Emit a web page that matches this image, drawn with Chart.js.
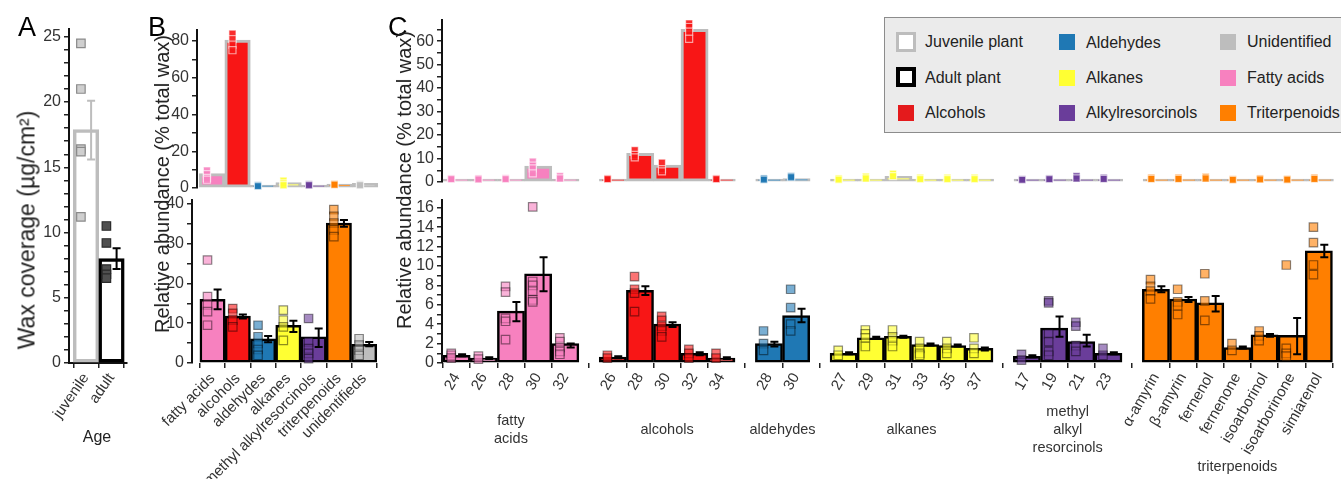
<!DOCTYPE html>
<html>
<head>
<meta charset="utf-8">
<title>Wax composition</title>
<script src="https://cdn.jsdelivr.net/npm/chart.js@4.4.1/dist/chart.umd.min.js"></script>
<style>
  body { margin: 0; background: #fff; }
  #fig { position: relative; width: 1341px; height: 479px; overflow: hidden; font-family: 'Liberation Sans', Arial, sans-serif; color: #222; }
  #fig canvas { position: absolute; }
  .txt { position: absolute; white-space: nowrap; line-height: 1; }
  .panel { font-size: 27px; color: #000; }
  .ytitle { font-size: 20px; transform: translate(-50%, -50%) rotate(-90deg); }
  .centered { transform: translate(-50%, -50%); }
  #legendBox { position: absolute; left: 884px; top: 17px; width: 470px; height: 114px; background: #ebebeb; border: 1px solid #8c8c8c; }
  .sw { position: absolute; box-sizing: border-box; }
  .lg { position: absolute; font-size: 16px; line-height: 20px; white-space: nowrap; color: #222; }
</style>
</head>
<body>
<div id="fig">
  <canvas id="chartA" width="135" height="479" style="left:0;top:0"></canvas>
  <canvas id="chartBtop" width="245" height="196" style="left:140px;top:0"></canvas>
  <canvas id="chartBbot" width="245" height="289" style="left:140px;top:190px"></canvas>
  <canvas id="chartCtop" width="961" height="190" style="left:380px;top:0"></canvas>
  <canvas id="chartCbot" width="961" height="289" style="left:380px;top:190px"></canvas>

  <div class="txt panel" style="left:18px;top:14px">A</div>
  <div class="txt panel" style="left:148px;top:14px">B</div>
  <div class="txt panel" style="left:388px;top:14px">C</div>

  <div class="txt ytitle" style="left:27px;top:230px;font-size:23px">Wax coverage (µg/cm²)</div>
  <div class="txt ytitle" style="left:162px;top:184px">Relative abundance (% total wax)</div>
  <div class="txt ytitle" style="left:404px;top:180px">Relative abundance (% total wax)</div>
  <div class="txt centered" style="left:97px;top:437px;font-size:16px">Age</div>

  <div id="legendBox"></div>
  <div class="sw" style="left:896px;top:32px;width:20px;height:20px;border:3px solid #bdbdbd;background:#fff"></div>
  <div class="lg" style="left:925px;top:32px">Juvenile plant</div>
  <div class="sw" style="left:896px;top:67px;width:20px;height:20px;border:4px solid #000;background:#fff"></div>
  <div class="lg" style="left:925px;top:68px">Adult plant</div>
  <div class="sw" style="left:898px;top:105px;width:16px;height:16px;background:#e41a1c"></div>
  <div class="lg" style="left:925px;top:103px">Alcohols</div>

  <div class="sw" style="left:1059px;top:34px;width:16px;height:16px;background:#1f78b4"></div>
  <div class="lg" style="left:1086px;top:33px">Aldehydes</div>
  <div class="sw" style="left:1059px;top:70px;width:16px;height:16px;background:#ffff33"></div>
  <div class="lg" style="left:1086px;top:68px">Alkanes</div>
  <div class="sw" style="left:1059px;top:105px;width:16px;height:16px;background:#6a3d9a"></div>
  <div class="lg" style="left:1086px;top:103px">Alkylresorcinols</div>

  <div class="sw" style="left:1220px;top:34px;width:16px;height:16px;background:#bdbdbd"></div>
  <div class="lg" style="left:1247px;top:32px">Unidentified</div>
  <div class="sw" style="left:1220px;top:70px;width:16px;height:16px;background:#f781bf"></div>
  <div class="lg" style="left:1247px;top:68px">Fatty acids</div>
  <div class="sw" style="left:1220px;top:105px;width:16px;height:16px;background:#ff7f00"></div>
  <div class="lg" style="left:1247px;top:103px">Triterpenoids</div>
</div>

<script>
// ---- panel A: total wax coverage
const ageLabels = ['juvenile', 'adult'];
const waxMean = [17.9, 8.0];
const waxErr = [[15.6, 20.1], [7.2, 8.8]];
const waxPoints = [[24.5, 21.0, 16.4, 16.2, 11.2], [10.5, 9.2, 7.2, 6.8, 6.5]];

// ---- panel B: compound classes
const classLabels = ['fatty acids', 'alcohols', 'aldehydes', 'alkanes', 'methyl alkylresorcinols', 'triterpenoids', 'unidentifieds'];
const classJuvMean = [7.8, 80.5, 1.2, 3.0, 1.5, 2.2, 2.5];
const classJuvPoints = [[9.5, 7.5, 5.5, 4.5], [84, 81, 78, 75], [1.5, 1.0], [4.0, 2.5, 1.5], [2.0, 1.5], [2.2, 1.8], [2.0, 1.5]];
const classAdultMean = [16, 11.8, 6.1, 9.5, 6.6, 35.2, 4.7];
const classAdultErr = [[13.5, 18.5], [11.2, 12.2], [5.2, 6.8], [7.8, 10.6], [4.0, 8.7], [34.3, 36.0], [4.2, 5.3]];
const classAdultPoints = [[25.9, 16.7, 14.6, 12.9, 9.5], [13.7, 12.5, 10.8, 9.1], [9.5, 6.6, 4.9, 3.4, 1.9],
  [13.3, 10.8, 9.1, 5.7], [11.2, 5.3, 3.6, 2.4, 1.1], [38.6, 36.9, 35.2, 33.5, 31.8], [6.1, 4.5, 3.2, 1.9]];

// ---- panel C: single compounds, grouped by class
const groupNames = [['fatty', 'acids'], ['alcohols'], ['aldehydes'], ['alkanes'], ['methyl', 'alkyl', 'resorcinols'], ['triterpenoids']];
const chainLabels = [
  ['24', '26', '28', '30', '32'],
  ['26', '28', '30', '32', '34'],
  ['28', '30'],
  ['27', '29', '31', '33', '35', '37'],
  ['17', '19', '21', '23'],
  ['α-amyrin', 'β-amyrin', 'fernenol', 'fernenone', 'isoarborinol', 'isoarborinone', 'simiarenol']
];
const chainJuvMean = [
  [0.5, 0.3, 0.5, 6.8, 0.8],
  [0.5, 12.2, 7.2, 65, 0.6],
  [0.5, 1.5],
  [0.6, 1.2, 2.4, 0.8, 0.7, 0.7],
  [0.5, 0.6, 0.8, 0.8],
  [0.6, 0.6, 1.0, 0.4, 0.4, 0.4, 0.6]
];
const chainJuvPoints = [
  [[1.5, 1.2], [1.5, 1.1], [1.6, 1.2], [8.7, 7.0, 5.8, 3.7], [2.5, 1.5]],
  [[1.5, 1.2], [13.5, 11.5, 10.5], [8.2, 5.5, 4.5], [67.5, 66, 64, 61], [1.5, 1.2]],
  [[1.5, 1.0], [2.5, 2.0]],
  [[1.5, 1.0], [2.3, 1.5], [3.5, 2.5], [1.8, 1.2], [1.8, 1.2], [1.8, 1.2]],
  [[1.2, 0.9], [1.5, 1.2], [2.5, 1.5], [1.8, 1.3]],
  [[1.8, 1.3], [1.8, 1.3], [2.2, 1.5], [1.2, 0.9], [1.5, 1.1], [1.3, 1.0], [1.8, 1.3]]
];
const chainAdultMean = [
  [0.8, 0.5, 5.35, 9.2, 2.0],
  [0.6, 7.5, 4.0, 1.0, 0.5],
  [2.0, 4.9],
  [1.0, 2.6, 2.75, 1.9, 1.8, 1.5],
  [0.7, 3.6, 2.2, 1.0],
  [7.6, 6.6, 6.2, 1.6, 2.9, 2.85, 11.55]
];
const chainAdultErr = [
  [[0.7, 0.9], [0.4, 0.6], [4.3, 6.3], [7.4, 10.9], [1.6, 2.0]],
  [[0.5, 0.7], [7.0, 7.9], [3.7, 4.2], [0.8, 1.1], [0.4, 0.6]],
  [[1.7, 2.2], [4.2, 5.6]],
  [[0.9, 1.1], [2.5, 2.7], [2.6, 2.8], [1.8, 2.0], [1.7, 1.9], [1.3, 1.6]],
  [[0.6, 0.8], [2.7, 4.8], [1.7, 2.9], [0.9, 1.1]],
  [[7.3, 7.9], [6.3, 6.8], [5.3, 6.9], [1.5, 1.7], [2.7, 3.0], [0.9, 4.65], [10.9, 12.2]]
];
const chainAdultPoints = [
  [[1.0, 0.8, 0.5], [0.7, 0.4], [7.9, 7.3, 4.6, 4.3, 2.4], [16.1, 8.4, 8.0, 7.4, 6.5, 6.3], [2.6, 2.2, 1.6, 1.2, 0.9]],
  [[0.8, 0.5], [8.9, 7.6, 7.2, 5.3], [4.8, 4.4, 3.8, 3.3, 2.7], [1.4, 1.0, 0.5], [1.0, 0.5]],
  [[3.3, 2.0, 1.3], [7.6, 5.7, 4.0, 3.3]],
  [[1.3, 0.8], [3.4, 3.0, 2.6, 1.7], [3.4, 2.7, 2.3, 1.7], [2.2, 1.5, 1.0, 0.8], [2.2, 1.5, 1.0], [2.6, 1.5, 1.0]],
  [[0.9, 0.3], [6.4, 6.2, 3.0, 2.2, 1.2, 0.8], [4.2, 3.8, 1.8, 1.2], [1.5, 0.8]],
  [[8.6, 7.9, 7.4, 6.6], [7.6, 6.3, 5.9, 5.0], [9.2, 6.4, 4.4], [2.0, 1.3], [3.3, 2.8, 2.3], [10.1, 1.5, 1.0, 0.7], [14.0, 12.4, 10.1, 9.1]]
];

// ---- styling
const CLASS_COLORS = ['#f781bf', '#f81616', '#1f78b4', '#ffff33', '#6a3d9a', '#ff7f00', '#bdbdbd'];
const JUV_EDGE = '#bdbdbd';
const GROUP_GAP = 0.75;
const GROUP_LABEL_Y = [430, 430, 430, 430, 430, 467];

Chart.defaults.font.family = "'Liberation Sans', Arial, sans-serif";
Chart.defaults.font.size = 15;
Chart.defaults.color = '#333';
Chart.defaults.animation = false;
Chart.defaults.events = [];
Chart.defaults.plugins.legend.display = false;
Chart.defaults.plugins.tooltip.enabled = false;

function rgba(hex, a) {
  const n = parseInt(hex.slice(1), 16);
  return `rgba(${n >> 16}, ${(n >> 8) & 255}, ${n & 255}, ${a})`;
}

// y axis with a tick mark every `step`, labelled every `major`
function yAxis(width, max, step, major) {
  const near = (v, s) => Math.abs(v / s - Math.round(v / s)) < 1e-6;
  return {
    type: 'linear', min: 0, max: max,
    afterBuildTicks: s => {
      const t = [];
      for (let k = 0; k * step <= max + 1e-9; k++) t.push({ value: +(k * step).toFixed(6) });
      s.ticks = t;
    },
    afterFit: s => { s.width = width; s.paddingTop = 0; s.paddingBottom = 0; },
    ticks: { autoSkip: false, padding: 3, font: { size: 16 }, callback: v => near(v, major) ? String(Math.round(v)) : '' },
    grid: { drawOnChartArea: false, tickLength: 5, color: '#222', lineWidth: 1.5 },
    border: { color: '#111', width: 2 }
  };
}

function xAxis(min, max, centers, labels, rot, height, showLine) {
  return {
    type: 'linear', min: min, max: max, offset: false,
    display: height > 0,
    afterBuildTicks: s => { s.ticks = centers.map(v => ({ value: v })); },
    afterFit: s => { s.height = height; s.paddingLeft = 0; s.paddingRight = 0; },
    ticks: { autoSkip: false, minRotation: rot, maxRotation: rot, padding: 2, callback: (v, i) => labels[i] },
    grid: { drawOnChartArea: false, tickLength: 5, color: '#222', lineWidth: 1.5 },
    border: { display: !!showLine, color: '#111', width: 2 }
  };
}

function barSet(centers, means, fill, edge, width, minLen) {
  return {
    type: 'bar', order: 2,
    data: centers.map((c, i) => ({ x: c, y: means[i] })),
    backgroundColor: fill, borderColor: edge, borderWidth: width,
    borderSkipped: false, minBarLength: minLen,
    barPercentage: 1, categoryPercentage: 1
  };
}

function pointSet(centers, pointsPerBar, colors, fillAlpha, edge, radius) {
  const data = [], bg = [];
  pointsPerBar.forEach((pts, i) => pts.forEach(v => {
    data.push({ x: centers[i] - 0.2, y: v });
    bg.push(rgba(colors[i], fillAlpha));
  }));
  return {
    type: 'scatter', order: 1, data: data, clip: false,
    pointStyle: 'rect', pointRadius: radius, pointBackgroundColor: bg,
    pointBorderColor: edge, pointBorderWidth: 1.2
  };
}

// error bars sit in the right half of each bar
function errorBars(items) {
  return {
    id: 'errorBars',
    afterDatasetsDraw(chart) {
      const { ctx, scales: { x, y } } = chart;
      ctx.save();
      items.forEach(it => {
        const px = x.getPixelForValue(it.x + 0.2);
        const lo = y.getPixelForValue(it.lo), hi = y.getPixelForValue(it.hi);
        ctx.strokeStyle = it.color;
        ctx.lineWidth = 2;
        ctx.beginPath();
        ctx.moveTo(px, lo); ctx.lineTo(px, hi);
        ctx.moveTo(px - 4, hi); ctx.lineTo(px + 4, hi);
        ctx.moveTo(px - 4, lo); ctx.lineTo(px + 4, lo);
        ctx.stroke();
      });
      ctx.restore();
    }
  };
}

function baseOptions(pad, x, y) {
  return { responsive: false, layout: { padding: pad }, scales: { x: x, y: y } };
}

// ---- panel A
const ageCenters = ageLabels.map((_, i) => i);
const agePointEdge = waxPoints.flatMap((pts, i) => pts.map(() => i ? '#2a2a2a' : '#8a8a8a'));
new Chart(document.getElementById('chartA'), {
  type: 'bar',
  data: {
    datasets: [
      pointSet(ageCenters, waxPoints, ['#cfcfcf', '#505050'], 1, agePointEdge, 6),
      barSet(ageCenters, waxMean, '#ffffff', [JUV_EDGE, '#000000'], 3.5, 0)
    ]
  },
  options: baseOptions({ top: 29, right: 8, left: 0, bottom: 0 },
    xAxis(-0.667, 1.608, ageCenters, ageLabels, 55, 116, true),
    yAxis(69, 25.6, 1, 5)),
  plugins: [errorBars(ageCenters.map((c, i) => ({ x: c, lo: waxErr[i][0], hi: waxErr[i][1], color: i ? '#000' : JUV_EDGE })))]
});

// ---- panel B
const classCenters = classLabels.map((_, i) => i);
new Chart(document.getElementById('chartBtop'), {
  type: 'bar',
  data: {
    datasets: [
      pointSet(classCenters, classJuvPoints, CLASS_COLORS, 0.9, 'rgba(255,255,255,0.6)', 5),
      barSet(classCenters, classJuvMean, CLASS_COLORS, JUV_EDGE, 3, 3)
    ]
  },
  options: baseOptions({ top: 30, right: 2, left: 0, bottom: 8 },
    xAxis(-0.59, 6.537, classCenters, classLabels, 45, 0, false),
    yAxis(57, 86, 10, 20))
});

new Chart(document.getElementById('chartBbot'), {
  type: 'bar',
  data: {
    datasets: [
      pointSet(classCenters, classAdultPoints, CLASS_COLORS, 0.6, 'rgba(0,0,0,0.45)', 6),
      barSet(classCenters, classAdultMean, CLASS_COLORS, '#000000', 2.5, 5)
    ]
  },
  options: baseOptions({ top: 10, right: 4, left: 0, bottom: 0 },
    xAxis(-0.813, 6.54, classCenters, classLabels, 45, 116, false),
    yAxis(52, 41, 5, 10)),
  plugins: [errorBars(classCenters.map((c, i) => ({ x: c, lo: classAdultErr[i][0], hi: classAdultErr[i][1], color: '#000' })))]
});

// ---- panel C: lay groups out along one linear axis with a gap between them
const groupStart = [];
let cursor = 0;
chainLabels.forEach(g => { groupStart.push(cursor); cursor += g.length + GROUP_GAP; });
const chainCenters = [], chainTickLabels = [], chainColors = [];
chainLabels.forEach((g, gi) => g.forEach((t, i) => {
  chainCenters.push(groupStart[gi] + i + 0.5);
  chainTickLabels.push(t);
  chainColors.push(CLASS_COLORS[gi]);
}));
const C_MIN = -0.04, C_MAX = 32.8;

new Chart(document.getElementById('chartCtop'), {
  type: 'bar',
  data: {
    datasets: [
      pointSet(chainCenters, chainJuvPoints.flat(), chainColors, 0.9, 'rgba(255,255,255,0.6)', 5),
      barSet(chainCenters, chainJuvMean.flat(), chainColors, JUV_EDGE, 3, 3)
    ]
  },
  options: baseOptions({ top: 20, right: 2.5, left: 0, bottom: 8 },
    xAxis(C_MIN, C_MAX, chainCenters, chainTickLabels, 55, 0, false),
    yAxis(62, 69, 5, 10))
});

const adultErrFlat = chainAdultErr.flat();
const groupLabels = {
  id: 'groupLabels',
  afterDraw(chart) {
    const { ctx, scales: { x } } = chart;
    ctx.save();
    ctx.font = "14.5px 'Liberation Sans', Arial, sans-serif";
    ctx.fillStyle = '#333';
    ctx.textAlign = 'center';
    ctx.textBaseline = 'middle';
    groupNames.forEach((lines, g) => {
      const cx = x.getPixelForValue(groupStart[g] + chainLabels[g].length / 2);
      const cy = GROUP_LABEL_Y[g] - 190;
      lines.forEach((t, k) => ctx.fillText(t, cx, cy + (k - (lines.length - 1) / 2) * 18));
    });
    ctx.restore();
  }
};

new Chart(document.getElementById('chartCbot'), {
  type: 'bar',
  data: {
    datasets: [
      pointSet(chainCenters, chainAdultPoints.flat(), chainColors, 0.6, 'rgba(0,0,0,0.45)', 6),
      barSet(chainCenters, chainAdultMean.flat(), chainColors, '#000000', 2.5, 5)
    ]
  },
  options: baseOptions({ top: 10, right: 2.5, left: 0, bottom: 0 },
    xAxis(C_MIN, C_MAX, chainCenters, chainTickLabels, 60, 116, false),
    yAxis(62, 16.8, 1, 2)),
  plugins: [
    errorBars(chainCenters.map((c, i) => ({ x: c, lo: adultErrFlat[i][0], hi: adultErrFlat[i][1], color: '#000' }))),
    groupLabels
  ]
});
</script>
</body>
</html>
